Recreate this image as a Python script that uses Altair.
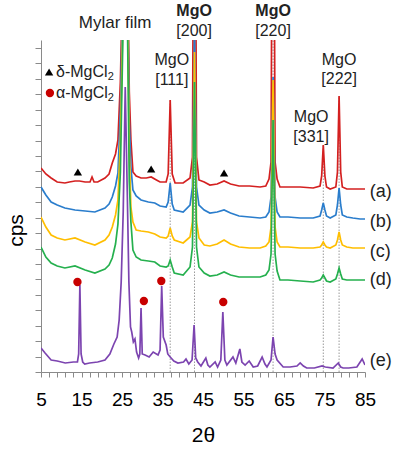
import altair as alt
import pandas as pd

# ---------------- data ----------------
samples = ["(a)", "(b)", "(c)", "(d)", "(e)"]
colors = ["#d42020", "#2a7dcc", "#ffbe00", "#25b04e", "#7c44b0"]

a_x = [5, 6.2, 7.5, 9, 10.9, 12, 13.4, 14.5, 15.9, 17.1, 17.6, 18.1, 19, 20.8, 21.8, 22.6, 23.4, 24.0, 24.6,
       25.2, 25.8, 26.4, 26.8, 27.2, 27.7, 28.5, 29.7, 31, 32.2, 33.5, 34.4, 35.9, 36.4, 36.9, 37.4, 38.1,
       40.1, 41.8, 42.4, 42.9, 43.4, 44.0, 45.3, 46.7, 48.5, 50.2, 51.8, 53.9, 56.5, 59.1, 60.5, 61.3, 61.8,
       62.3, 62.8, 63.3, 64.0, 66, 69, 72.2, 73.9, 74.3, 74.7, 75.1, 75.5, 76.4, 77.8, 78.2, 78.6, 79.0,
       79.4, 80.5, 82, 83.8, 85]
a_y = [204, 198, 194, 190, 189, 190, 191, 191, 190, 190, 195, 190, 190, 194, 198, 209, 218, 232, 290,
       400, 700, 400, 280, 232, 200, 196, 194, 194, 195, 192, 190, 190, 198, 272, 198, 189,
       189, 194, 215, 700, 215, 192, 190, 187, 188, 191, 188, 186, 186, 185, 186, 193, 210,
       700, 210, 193, 185, 185, 185, 184, 186, 196, 227, 196, 185, 183, 185, 200, 276, 200,
       185, 183, 183, 183, 183]

bcd_x = [5, 6.2, 7.5, 9, 10.9, 13.4, 15.9, 18.3, 20.8, 21.8, 22.6, 23.4, 24.0, 24.6, 25.2, 25.8, 26.4,
         26.8, 27.2, 27.7, 28.5, 29.7, 31.5, 33.1, 34.4, 35.9, 36.4, 36.9, 37.4, 37.9, 40.1, 41.8, 42.4,
         42.9, 43.4, 44.0, 45.3, 46.7, 48.5, 50.2, 51.8, 53.9, 56.5, 59.1, 60.5, 61.3, 61.8, 62.3, 62.8,
         63.3, 64.0, 66, 69, 72.2, 73.9, 74.3, 74.7, 75.1, 75.5, 76.4, 77.8, 78.2, 78.6, 79.0, 79.4,
         80.5, 82, 83.8, 85]
b_y = [185, 177, 170, 167, 164, 162, 161, 160, 164, 168, 175, 186, 199, 260, 380, 650, 380,
       250, 205, 182, 176, 172, 170, 169, 166, 165, 170, 189, 168, 162, 160, 167, 185,
       340, 185, 167, 162, 159, 160, 162, 159, 156, 155, 154, 155, 160, 175, 295, 175,
       160, 155, 155, 154, 154, 156, 162, 169, 162, 156, 154, 157, 167, 184, 167, 157,
       155, 154, 153, 153]
c_y = [155, 145, 137, 134, 132, 134, 130, 127, 132, 137, 145, 157, 172, 230, 350, 600, 350,
       220, 165, 150, 142, 141, 140, 138, 135, 134, 136, 144, 136, 132, 129, 135, 150,
       320, 150, 134, 127, 126, 128, 132, 128, 125, 124, 124, 126, 130, 145, 292, 145,
       130, 125, 125, 124, 124, 125, 127, 130, 127, 125, 124, 127, 132, 140, 132, 127,
       125, 124, 124, 124]
d_y = [125, 115, 109, 106, 104, 106, 102, 99, 103, 107, 114, 128, 148, 200, 330, 550, 330,
       190, 150, 122, 115, 112, 111, 110, 106, 105, 106, 112, 105, 99, 97, 105, 125,
       290, 125, 105, 99, 96, 97, 100, 97, 95, 95, 95, 97, 102, 118, 252, 118,
       101, 92, 92, 91, 90, 92, 94, 97, 94, 91, 90, 93, 98, 104, 98, 93,
       92, 92, 92, 92]

e_x = [5, 6, 7.5, 9, 11, 13, 14.0, 14.3, 14.6, 14.9, 15.3, 15.8, 17, 19, 20.8, 22, 23, 23.8, 24.3, 24.8,
       25.3, 25.8, 26.3, 26.7, 27.1, 27.4, 27.8, 28.2, 28.6, 29.1, 29.4, 29.7, 30.0, 30.7, 31.7, 32.7,
       33.9, 34.4, 34.8, 35.2, 35.9, 36.3, 36.9, 37.8, 38.8, 40.2, 40.8, 41.5, 42.3, 42.8, 43.2, 43.7,
       44.5, 45.7, 46.2, 46.7, 48, 48.6, 49.4, 49.9, 50.4, 50.9, 52.4, 53.1, 54.1, 54.6, 55.4, 56.4,
       57.4, 58.5, 59.6, 60.3, 60.8, 61.8, 62.3, 62.8, 63.3, 64.8, 66.5, 68.2, 69, 69.8, 70.6, 72.5,
       74.4, 75.2, 77.1, 78.4, 79.0, 79.6, 81, 83, 84.3, 85]
e_y = [24, 19, 12, 11, 9, 10, 10, 18, 87, 18, 10, 8, 9, 10, 12, 18, 28, 35, 52, 90,
       160, 285, 180, 90, 45, 40, 30, 33, 20, 14, 18, 64, 18, 17, 15, 20,
       17, 22, 86, 35, 27, 18, 15, 11, 9, 10, 13, 8, 12, 47, 14, 10,
       6, 14, 7, 5, 10, 5, 12, 60, 12, 7, 15, 9, 23, 10, 7, 11,
       5, 6, 15, 8, 5, 12, 35, 18, 12, 5, 5, 6, 9, 6, 4, 4,
       6, 5, 4, 9, 5, 4, 4, 5, 13, 7]

trace_x = [a_x, bcd_x, bcd_x, bcd_x, e_x]
trace_y = [a_y, b_y, c_y, d_y, e_y]

# MgO reflections (dotted guide lines)
mgo_x = [36.9, 42.9, 62.3, 74.7, 78.6]
mgo_top = [272, 332, 332, 227, 276]

# phase markers
delta_x = [14.1, 32.2, 50.2]
delta_y = [200, 203, 199]
alpha_x = [14.0, 30.4, 34.7, 50.0]
alpha_y = [90, 71, 91, 70]

# annotations
note_text = ["Mylar film", "MgO", "[111]", "[200]", "[220]", "MgO", "[331]", "MgO", "[222]"]
note_x = [23.3, 37.3, 37.3, 42.8, 62.3, 71.7, 71.7, 78.6, 78.6]
note_y = [349, 312, 292, 341, 341, 255, 235, 312, 293]
bold_text = ["MgO", "MgO"]
bold_x = [42.8, 62.3]
bold_y = [361, 361]
sample_label_x = [86.2] * 5
sample_label_y = [180, 150, 120, 92, 11]

legend_text = ["δ-MgCl", "α-MgCl"]
legend_x = [8.7, 8.7]
legend_y = [300, 279]
legend_sub_x = [21.5, 21.5]
legend_sub_y = [295, 274]

FONT = "Liberation Sans"
xs = alt.Scale(domain=[5, 85], nice=False)
ys = alt.Scale(domain=[0, 332], nice=False, zero=False)

x_axis = alt.Axis(
    values=list(range(5, 86, 2)),
    labelExpr="(datum.value - 5) % 10 == 0 ? datum.label : ''",
    title="2θ", titleFont=FONT, titleFontSize=21, titleFontWeight="normal", titleColor="black",
    titleX=162, titleY=63, titleBaseline="middle",
    labelFont=FONT, labelFontSize=19, labelColor="black", labelPadding=13,
    labelOverlap=False, labelFlush=False,
    tickColor="#8a8a8a", domainColor="#8a8a8a", tickSize=5, grid=False,
)
y_axis = alt.Axis(
    values=[324 / 21 * i for i in range(22)], labels=False,
    title="cps", titleFont=FONT, titleFontSize=21, titleFontWeight="normal", titleColor="black",
    titleX=-25, titleY=190, titleAlign="center", titleBaseline="middle",
    tickColor="#8a8a8a", domainColor="#8a8a8a", tickSize=6, grid=False,
)


def X(field):
    return alt.X(field, scale=xs, axis=x_axis)


def Y(field):
    return alt.Y(field, scale=ys, axis=y_axis)


layers = []

rule_df = pd.DataFrame({"x": mgo_x, "y0": [0] * len(mgo_x), "y1": mgo_top})
layers.append(
    alt.Chart(rule_df).mark_rule(color="#9a9a9a", strokeDash=[1.5, 1.5], strokeWidth=1).encode(
        x=X("x:Q"), y=Y("y0:Q"), y2="y1:Q",
    )
)

for name, col, tx, ty in zip(samples, colors, trace_x, trace_y):
    df = pd.DataFrame({"theta": tx, "cps": ty, "order": list(range(len(tx)))})
    layers.append(
        alt.Chart(df).mark_line(color=col, strokeWidth=1.7, clip=True).encode(
            x=X("theta:Q"), y=Y("cps:Q"), order="order:Q",
        )
    )

tri_df = pd.DataFrame({"x": delta_x + [7.0], "y": delta_y + [300]})
layers.append(
    alt.Chart(tri_df).mark_point(shape="triangle-up", filled=True, color="black", size=70, opacity=1).encode(
        x=X("x:Q"), y=Y("y:Q")
    )
)
dot_df = pd.DataFrame({"x": alpha_x + [7.2], "y": alpha_y + [279]})
layers.append(
    alt.Chart(dot_df).mark_circle(color="#c80000", size=70, opacity=1).encode(
        x=X("x:Q"), y=Y("y:Q")
    )
)

note_df = pd.DataFrame({"t": note_text, "x": note_x, "y": note_y,
                        "s": [17] + [16] * (len(note_text) - 1)})
layers.append(
    alt.Chart(note_df).mark_text(font=FONT, color="#222222", align="center", baseline="middle").encode(
        x=X("x:Q"), y=Y("y:Q"), text="t:N",
        size=alt.Size("s:Q", scale=None, legend=None),
    )
)
bold_df = pd.DataFrame({"t": bold_text, "x": bold_x, "y": bold_y})
layers.append(
    alt.Chart(bold_df).mark_text(font=FONT, fontSize=16, fontWeight="bold", color="#222222",
                                 align="center", baseline="middle").encode(
        x=X("x:Q"), y=Y("y:Q"), text="t:N"
    )
)
lab_df = pd.DataFrame({"t": samples, "x": sample_label_x, "y": sample_label_y})
layers.append(
    alt.Chart(lab_df).mark_text(font=FONT, fontSize=18, color="#222222", align="left", baseline="middle").encode(
        x=X("x:Q"), y=Y("y:Q"), text="t:N"
    )
)
leg_df = pd.DataFrame({"t": legend_text, "x": legend_x, "y": legend_y})
layers.append(
    alt.Chart(leg_df).mark_text(font=FONT, fontSize=16, color="#222222", align="left", baseline="middle").encode(
        x=X("x:Q"), y=Y("y:Q"), text="t:N"
    )
)
sub_df = pd.DataFrame({"t": ["2", "2"], "x": legend_sub_x, "y": legend_sub_y})
layers.append(
    alt.Chart(sub_df).mark_text(font=FONT, fontSize=11, color="#222222", align="left", baseline="middle").encode(
        x=X("x:Q"), y=Y("y:Q"), text="t:N"
    )
)

chart = alt.layer(*layers).properties(
    width=324, height=332,
    autosize=alt.AutoSizeParams(type="none"),
    padding={"left": 41, "top": 40, "right": 40, "bottom": 87},
    background="white",
).configure_view(stroke=None)

chart.save("out.html", embed_options={"renderer": "svg", "actions": False})
